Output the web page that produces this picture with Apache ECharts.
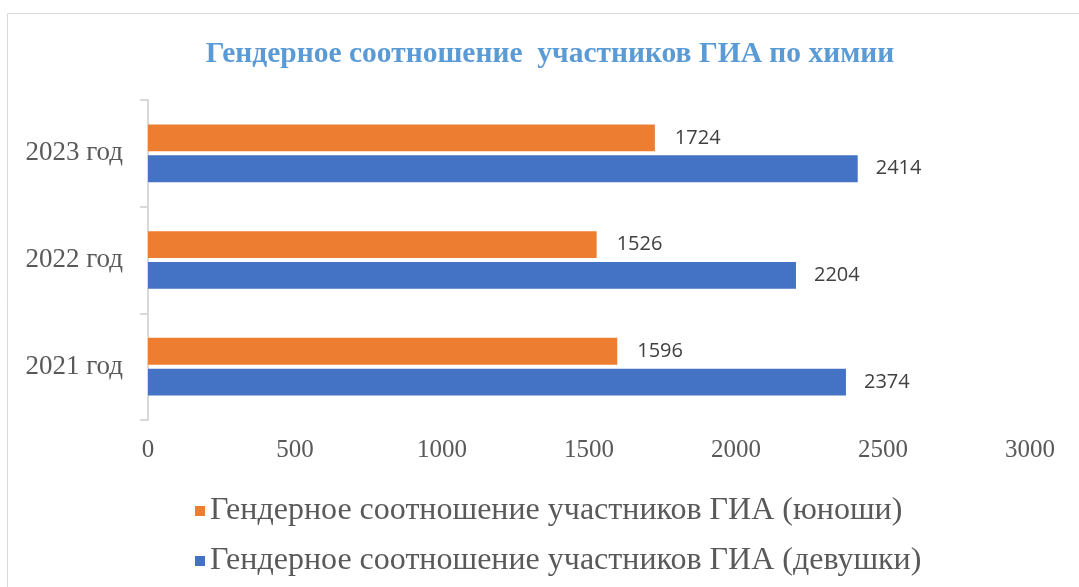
<!DOCTYPE html>
<html>
<head>
<meta charset="utf-8">
<script src="https://cdn.jsdelivr.net/npm/echarts@6/dist/echarts.min.js"></script>
<style>
  html, body { margin: 0; padding: 0; background: #fff; }
  #chartmain { width: 1079px; height: 587px; }
</style>
</head>
<body>
<div id="chartmain"></div>
<script>
var years = ["2021 год", "2022 год", "2023 год"];
var boys = [1596, 1526, 1724];   // юноши
var girls = [2374, 2204, 2414];  // девушки
var xTicks = [0, 3000, 500];     // min, max, interval

var boysName = "Гендерное соотношение участников ГИА (юноши)";
var girlsName = "Гендерное соотношение участников ГИА (девушки)";

var serif = "'Liberation Serif', 'DejaVu Serif', serif";
var sans = "'Open Sans', 'Noto Sans', sans-serif";

var option = {
  animation: false,
  title: {
    text: "Гендерное соотношение  участников ГИА по химии",
    left: 545,
    textAlign: "center",
    top: 34,
    textStyle: { fontFamily: serif, fontWeight: "bold", fontSize: 29.5, color: "#5B9BD5" }
  },
  graphic: [
    {
      type: "rect",
      shape: { x: 7.5, y: 13.5, width: 1100, height: 600 },
      style: { fill: "none", stroke: "#d9d9d9", lineWidth: 1 },
      z: -1
    }
  ],
  legend: {
    orient: "vertical",
    left: 190,
    top: 490,
    itemWidth: 10,
    itemHeight: 10,
    itemGap: 18,
    icon: "rect",
    data: [boysName, girlsName],
    textStyle: { fontFamily: serif, fontSize: 32, color: "#595959" }
  },
  grid: { left: 148, right: 49, top: 100, bottom: 167 },
  xAxis: {
    type: "value",
    min: xTicks[0],
    max: xTicks[1],
    interval: xTicks[2],
    axisLine: { show: false },
    axisTick: { show: false },
    splitLine: { show: false },
    axisLabel: {
      fontFamily: serif, fontSize: 25, color: "#595959", margin: 18,
      formatter: function (v) { return String(v); }
    }
  },
  yAxis: {
    type: "category",
    data: years,
    axisLine: { show: true, lineStyle: { color: "#d9d9d9", width: 2 } },
    axisTick: { show: true, length: 8, lineStyle: { color: "#d9d9d9", width: 2 } },
    axisLabel: { fontFamily: serif, fontSize: 27, color: "#595959", margin: 25, padding: [5, 0, 0, 0] }
  },
  series: [
    {
      name: boysName,
      type: "bar",
      data: boys,
      barGap: "15%",
      barCategoryGap: "46%",
      itemStyle: { color: "#ED7D31" },
      label: { show: true, position: "right", distance: 20, fontFamily: sans, fontSize: 20, color: "#404040" }
    },
    {
      name: girlsName,
      type: "bar",
      data: girls,
      barGap: "15%",
      barCategoryGap: "46%",
      itemStyle: { color: "#4472C4" },
      label: { show: true, position: "right", distance: 18, fontFamily: sans, fontSize: 20, color: "#404040" }
    }
  ]
};

var myChart = echarts.init(document.getElementById("chartmain"));
myChart.setOption(option);
</script>
</body>
</html>
